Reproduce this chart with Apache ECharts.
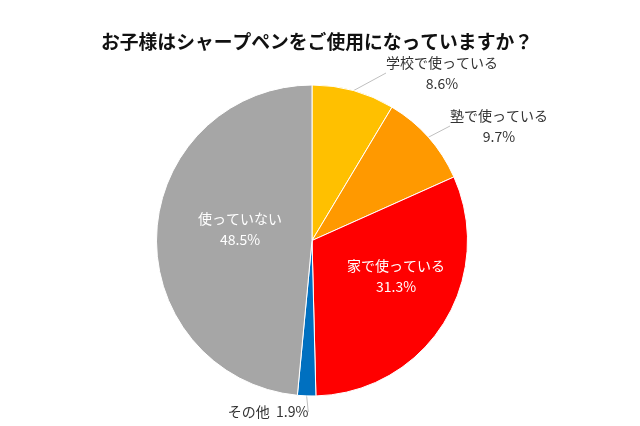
<!DOCTYPE html>
<html><head><meta charset="utf-8">
<script src="https://cdn.jsdelivr.net/npm/echarts@6/dist/echarts.min.js"></script>
<style>html,body{margin:0;padding:0;background:#fff}#c{width:640px;height:426px}</style>
</head><body><div id="c"></div>
<script>
const titleText = 'お子様はシャープペンをご使用になっていますか？';
const categories = ['学校で使っている', '塾で使っている', '家で使っている', 'その他', '使っていない'];
const values = [8.6, 9.7, 31.3, 1.9, 48.5];

const colors = ['#FFC000', '#FF9900', '#FF0000', '#0070C0', '#A6A6A6'];
const labelPos = [
  {x: 442, y: 73},
  {x: 499, y: 126},
  {x: 396, y: 276},
  {x: 268, y: 412},
  {x: 240, y: 229}
];
const inside = [false, false, true, false, true];

const chart = echarts.init(document.getElementById('c'));
chart.setOption({
  animation: false,
  title: {
    text: titleText, left: 312, top: 27, textAlign: 'center',
    textStyle: {fontFamily: 'Noto Sans CJK JP', fontSize: 18.8, fontWeight: 'bold', color: '#111'}
  },
  series: [{
    type: 'pie',
    center: [312, 240.5],
    radius: [0, 155.5],
    startAngle: 90,
    clockwise: true,
    avoidLabelOverlap: false,
    itemStyle: {borderColor: '#fff', borderWidth: 1},
    label: {
      fontFamily: 'Noto Sans CJK JP', fontSize: 14, lineHeight: 21, color: '#333',
      formatter: '{b}\n{c}%', align: 'center'
    },
    labelLine: {show: true, length: 12, length2: 0, smooth: false, lineStyle: {color: '#BFBFBF', width: 1}},
    labelLayout: function (p) {
      const pos = labelPos[p.dataIndex];
      return {x: pos.x, y: pos.y, align: 'center', verticalAlign: 'middle'};
    },
    data: categories.map((name, i) => ({
      name: name,
      value: values[i],
      itemStyle: {color: colors[i]},
      label: inside[i]
        ? {position: 'inside', color: '#fff'}
        : (i === 3 ? {position: 'outside', formatter: '{b}  {c}%'} : {position: 'outside'}),
      labelLine: {show: !inside[i]}
    }))
  }]
});
</script></body></html>
